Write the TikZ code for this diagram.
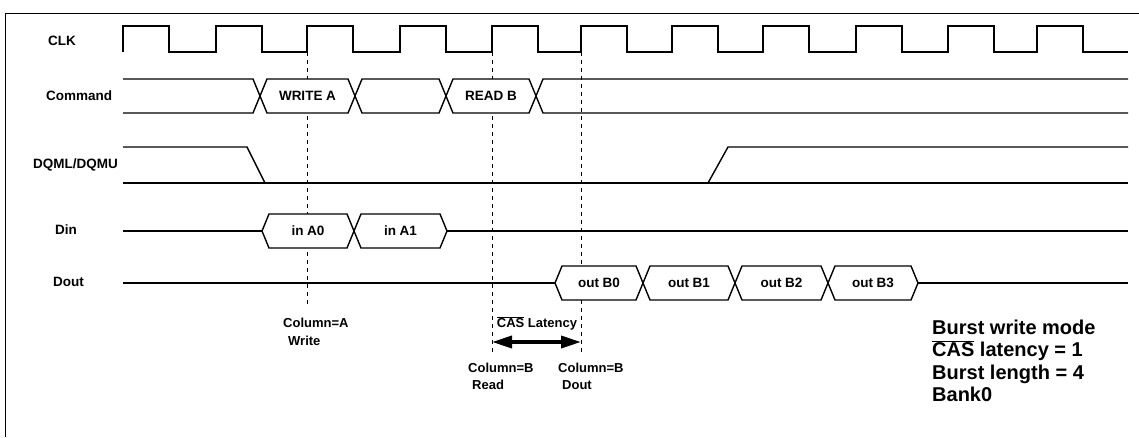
\documentclass[tikz,border=0pt]{standalone}
\usepackage{fontspec}
\setmainfont{Liberation Sans}
\usepackage{tikz}
\usetikzlibrary{arrows.meta, positioning}
\tikzstyle{sig} = [line width=1.4pt, line join=miter]
\tikzstyle{marker} = [line width=1pt, dash pattern=on 4pt off 4pt]
\tikzstyle{lbl} = [inner sep=0pt, font=\bfseries\fontsize{13.5}{16}\selectfont]
\tikzstyle{note} = [inner sep=0pt, font=\bfseries\fontsize{13}{15}\selectfont]
\tikzstyle{latency} = [line width=3.5pt, {Triangle[length=20pt,width=12pt]}-{Triangle[length=20pt,width=12pt]}]
\newcommand{\cas}{$\overline{\mbox{CAS}}$}
% from, to, middle, label, name
\newcommand{\busbox}[5]{%
  \draw[sig, fill=white] (#1,#3) -- ({#1+7},{#3-17}) -- ({#2-7},{#3-17}) -- (#2,#3)
    -- ({#2-7},{#3+17}) -- ({#1+7},{#3+17}) -- cycle;
  \node[lbl] (#5) at ({(#1+#2)/2},#3) {#4};}

\begin{document}
\begin{tikzpicture}[x=1pt, y=-1pt, >=latex]
  \useasboundingbox (0,0) rectangle (1139,437);
  \draw[line width=1pt] (5,437) -- (5,13) -- (1139,13);

  \node[lbl, anchor=west] (clk) at (48,41) {CLK};
  \node[lbl, anchor=west] (cmd) at (46,96) {Command};
  \node[lbl, anchor=west] (dqm) at (33,165) {DQML/DQMU};
  \node[lbl, anchor=west] (din) at (55,230) {Din};
  \node[lbl, anchor=west] (dout) at (53,282) {Dout};

  \draw[sig] (123,52) foreach \r in {123,216,307,400,492,581,672,763,856,948,1037}
    { -- (\r,52) -- (\r,26) -- ({\r+46},26) -- ({\r+46},52) } -- (1128,52);

  \coordinate (wtop) at (307,52);
  \coordinate (wbot) at (307,305);
  \coordinate (rtop) at (492,52);
  \coordinate (rbot) at (492,352);
  \coordinate (otop) at (581,52);
  \coordinate (obot) at (581,352);
  \draw[marker] (wtop) -- (wbot);
  \draw[marker] (rtop) -- (rbot);
  \draw[marker] (otop) -- (obot);

  \draw[sig] (123,79) -- (253,79) -- (260,96) -- (253,113) -- (123,113);
  \busbox{260}{355}{96}{WRITE A}{wra}
  \busbox{355}{446}{96}{}{gap}
  \busbox{446}{536}{96}{READ B}{rdb}
  \draw[sig] (1128,79) -- (543,79) -- (536,96) -- (543,113) -- (1128,113);

  \draw[sig] (123,147) -- (247,147) -- (265,183);
  \draw[sig] (123,183) -- (1128,183);
  \draw[sig] (708,183) -- (728,147) -- (1128,147);

  \draw[sig] (123,231) -- (262,231);
  \busbox{262}{354}{231}{in A0}{ina0}
  \busbox{354}{447}{231}{in A1}{ina1}
  \draw[sig] (447,231) -- (1128,231);

  \draw[sig] (123,283) -- (555,283);
  \busbox{555}{643}{283}{out B0}{outb0}
  \busbox{643}{735}{283}{out B1}{outb1}
  \busbox{735}{828}{283}{out B2}{outb2}
  \busbox{828}{918}{283}{out B3}{outb3}
  \draw[sig] (918,283) -- (1128,283);

  \node[note, anchor=west] (cola) at (283,323) {Column=A};
  \node[note, anchor=west] (wr) at (288,341) {Write};
  \node[note] (lat) at (537,323) {\cas{} Latency};
  \coordinate (rl) at (492,342);
  \coordinate (ol) at (581,342);
  \draw[latency] (rl) -- (ol);
  \node[note, anchor=west] (colb) at (468,368) {Column=B};
  \node[note, anchor=west] (rd) at (472,385) {Read};
  \node[note, anchor=west] (colo) at (558,368) {Column=B};
  \node[note, anchor=west] (dt) at (562,385) {Dout};

  \node[inner sep=0pt, anchor=west, align=left, font=\bfseries\fontsize{20}{22.5}\selectfont]
    (mode) at (932,361) {Burst write mode\\\cas{} latency = 1\\Burst length = 4\\Bank0};
\end{tikzpicture}
\end{document}
